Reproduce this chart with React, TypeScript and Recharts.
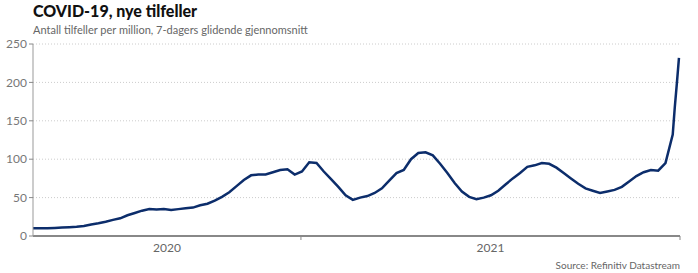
import React from 'react';
import { LineChart, Line, XAxis, YAxis, CartesianGrid } from 'recharts';

const DAY = 24 * 3600 * 1000;
const START = Date.UTC(2020, 3, 18);
const JAN2021 = Date.UTC(2021, 0, 1);
const JAN2022 = Date.UTC(2022, 0, 1);

// weekly readings (cases per million, 7-day avg), first one at START
const weeklyValues = [
  10, 10, 10, 10.5, 11, 11.5, 12, 13, 15, 16.5,
  18.5, 21, 23, 27, 30, 33, 35, 34.5, 35, 34,
  35, 36, 37, 40, 42, 46, 51, 57, 65, 73,
  79, 80, 80, 83, 86, 87, 80, 84, 96, 95,
  84, 74, 64, 53, 47, 50, 52, 56, 62, 72,
  82, 86, 100, 108, 109, 105, 94, 82, 69, 58,
  51, 48, 50, 53, 59, 67, 75, 82, 90, 92,
  95, 94, 89, 82, 75, 68, 62, 59, 56, 58,
  60, 64, 71, 78, 83, 86, 85, 95, 132,
];
// last days of the Omicron surge
const tailDays = [618, 620, 622];
const tailValues = [168, 199, 232];

const yTicks = [0, 50, 100, 150, 200, 250];
const xTicks = [JAN2021, JAN2022];
const yearLabels: Record<number, string> = { [JAN2021]: '2020', [JAN2022]: '2021' };
const prevBoundary: Record<number, number> = { [JAN2021]: START, [JAN2022]: JAN2021 };

const data = [
  ...weeklyValues.map((v, i) => ({ t: START + i * 7 * DAY, v })),
  ...tailDays.map((d, i) => ({ t: START + d * DAY, v: tailValues[i] })),
];

const W = 698;
const H = 273;
const LEFT = 33;
const RIGHT = 18;
const PLOT_W = W - LEFT - RIGHT;
const FONT = 'Lato, "Noto Sans", sans-serif';

const YearTick = (props: any) => {
  const { x, y, payload } = props;
  const val = payload.value as number;
  const prev = prevBoundary[val];
  const offset = ((val - prev) / (JAN2022 - START)) * PLOT_W / 2;
  return (
    <text x={x - offset} y={y + 10} textAnchor="middle" fill="#666" fontSize={12} fontFamily={FONT}>
      {yearLabels[val]}
    </text>
  );
};

export default function App() {
  return (
    <div style={{ position: 'absolute', left: 0, top: 0, width: W, height: H, background: '#fff', fontFamily: FONT }}>
      <div style={{ position: 'absolute', left: 33, top: 1, fontSize: 16, fontWeight: 900, color: '#111' }}>
        COVID-19, nye tilfeller
      </div>
      <div style={{ position: 'absolute', left: 33, top: 23, fontSize: 11, color: '#666' }}>
        Antall tilfeller per million, 7-dagers glidende gjennomsnitt
      </div>
      <LineChart width={W} height={H} data={data} margin={{ top: 44, right: RIGHT, bottom: 12, left: 0 }}>
        <CartesianGrid vertical={false} stroke="#ccc" strokeDasharray="1 2" />
        <XAxis
          dataKey="t"
          type="number"
          scale="time"
          domain={[START, JAN2022]}
          ticks={xTicks}
          tick={<YearTick />}
          tickLine={{ stroke: '#888' }}
          tickSize={4}
          axisLine={{ stroke: '#888', strokeWidth: 2 }}
          height={25}
          interval={0}
        />
        <YAxis
          domain={[0, 250]}
          ticks={yTicks}
          width={LEFT}
          tick={{ fill: '#777', fontSize: 12, fontFamily: FONT }}
          tickLine={{ stroke: '#888' }}
          tickSize={4}
          axisLine={{ stroke: '#999' }}
        />
        <Line
          type="linear"
          dataKey="v"
          stroke="#0c2d6b"
          strokeWidth={2.5}
          dot={false}
          isAnimationActive={false}
        />
      </LineChart>
      <div style={{ position: 'absolute', right: 18, top: 259, fontSize: 10, color: '#666' }}>
        Source: Refinitiv Datastream
      </div>
    </div>
  );
}
